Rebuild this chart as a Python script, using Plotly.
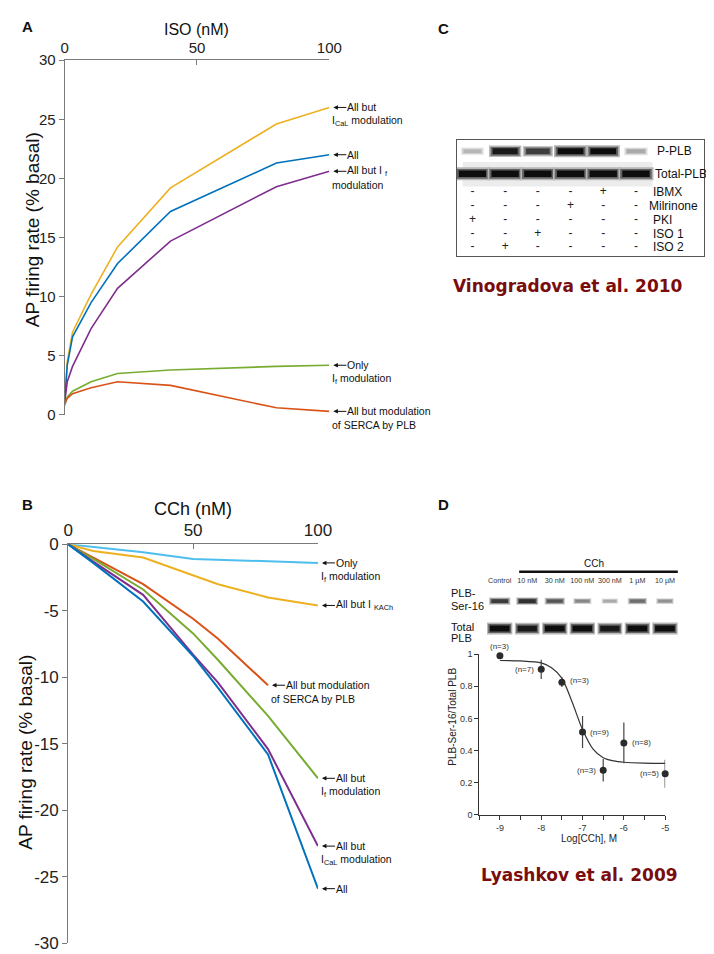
import plotly.graph_objects as go

W, H = 714, 954


def px(p):
    return p / W


def py(p):
    return 1 - p / H


FONT = "Liberation Sans, Arial, sans-serif"
BOLD_FONT = "DejaVu Sans, Verdana, sans-serif"

# ---------------- DATA ----------------
# Panel A: ISO dose response
iso_nM = [0, 1, 3, 10, 20, 40, 80, 100]
iso_all_but_ical = [1.0, 4.5, 7.0, 10.2, 14.2, 19.2, 24.6, 26.0]
iso_all = [1.0, 4.2, 6.6, 9.5, 12.8, 17.2, 21.3, 22.0]
iso_all_but_if = [1.0, 2.8, 4.1, 7.3, 10.7, 14.7, 19.3, 20.6]
iso_only_if = [0.8, 1.5, 2.0, 2.8, 3.5, 3.8, 4.1, 4.2]
iso_all_but_serca = [0.9, 1.4, 1.8, 2.3, 2.8, 2.5, 0.6, 0.3]
a_xticks = [0, 50, 100]
a_xticktext = ["0", "50", "100"]
a_yticks = [0, 5, 10, 15, 20, 25, 30]
a_yticktext = ["0", "5", "10", "15", "20", "25", "30"]

# Panel B: CCh dose response
cch_nM = [0, 10, 30, 50, 60, 80, 100]
cch_only_if = [0, -0.2, -0.6, -1.1, -1.15, -1.3, -1.4]
cch_all_but_ikach = [0, -0.5, -1.0, -2.3, -3.0, -4.0, -4.6]
cch_all_but_serca = [0, -1.0, -3.0, -5.6, -7.1, -10.6, None]
cch_all_but_if = [0, -1.1, -3.4, -6.7, -8.7, -12.9, -17.6]
cch_all_but_ical = [0, -1.3, -3.8, -8.3, -10.4, -15.4, -22.7]
cch_all = [0, -1.4, -4.3, -8.4, -10.8, -15.8, -25.9]
b_xticks = [0, 50, 100]
b_xticktext = ["0", "50", "100"]
b_yticks = [0, -5, -10, -15, -20, -25, -30]
b_yticktext = ["0", "-5", "-10", "-15", "-20", "-25", "-30"]

# Panel C: western blot (relative band densities) and treatment table
c_p_plb = [0.3, 0.95, 0.8, 1.0, 1.0, 0.35]
c_total_plb = [1.0, 1.0, 1.0, 1.0, 1.0, 1.0]
c_ibmx = ["-", "-", "-", "-", "+", "-"]
c_milrinone = ["-", "-", "-", "+", "-", "-"]
c_pki = ["+", "-", "-", "-", "-", "-"]
c_iso1 = ["-", "-", "+", "-", "-", "-"]
c_iso2 = ["-", "+", "-", "-", "-", "-"]
c_rows = ["IBMX", "Milrinone", "PKI", "ISO 1", "ISO 2"]

# Panel D: blot (relative densities) and dose response
d_lanes = ["Control", "10 nM", "30 nM", "100 nM", "300 nM", "1 µM", "10 µM"]
d_ser16 = [0.8, 0.85, 0.7, 0.5, 0.35, 0.6, 0.45]
d_total = [1.0, 0.95, 1.0, 1.0, 0.95, 1.0, 1.0]
d_logcch = [-9, -8, -7.5, -7, -6.5, -6, -5]
d_ratio = [0.99, 0.905, 0.825, 0.515, 0.277, 0.447, 0.255]
d_err = [0, 0.06, 0.03, 0.10, 0.07, 0.127, 0.087]
d_n = ["(n=3)", "(n=7)", "(n=3)", "(n=9)", "(n=3)", "(n=8)", "(n=5)"]
d_fit_x = [-9, -8.5, -8, -7.75, -7.5, -7.25, -7, -6.75, -6.5, -6.25, -6, -5.5, -5]
d_fit_y = [0.96, 0.957, 0.945, 0.915, 0.85, 0.70, 0.53, 0.41, 0.355, 0.335, 0.327, 0.322, 0.32]
d_xticks = [-9, -8, -7, -6, -5]
d_xticktext = ["-9", "-8", "-7", "-6", "-5"]
d_yticks = [0, 0.2, 0.4, 0.6, 0.8, 1]
d_yticktext = ["0", "0.2", "0.4", "0.6", "0.8", "1"]

# ---------------- STYLE ----------------
C_YEL = "#EDB120"
C_BLU = "#0072BD"
C_PUR = "#7E2F8E"
C_GRN = "#77AC30"
C_RED = "#D95319"
C_CYA = "#4DBEEE"
AX_COL = "#7a7a7a"
CITE_COL = "#7b0c0c"

fig = go.Figure()

# ---- Panel A lines ----
a_series = [
    (iso_all_but_ical, C_YEL, "All but", "I<sub>CaL</sub> modulation"),
    (iso_all, C_BLU, "All", None),
    (iso_all_but_if, C_PUR, "All but I <sub>f</sub>", "modulation"),
    (iso_only_if, C_GRN, "Only", "I<sub>f</sub> modulation"),
    (iso_all_but_serca, C_RED, "All but modulation", "of SERCA by PLB"),
]
for ys, col, _, _ in a_series:
    fig.add_trace(go.Scatter(x=iso_nM, y=ys, mode="lines", xaxis="x", yaxis="y",
                             line=dict(color=col, width=1.6), showlegend=False, hoverinfo="skip"))

# ---- Panel B lines ----
b_series = [
    (cch_only_if, C_CYA, "Only", "I<sub>f</sub> modulation"),
    (cch_all_but_ikach, C_YEL, "All but I <sub>KACh</sub>", None),
    (cch_all_but_serca, C_RED, "All but modulation", "of SERCA by PLB"),
    (cch_all_but_if, C_GRN, "All but", "I<sub>f</sub> modulation"),
    (cch_all_but_ical, C_PUR, "All but", "I<sub>CaL</sub> modulation"),
    (cch_all, C_BLU, "All", None),
]
for ys, col, _, _ in b_series:
    fig.add_trace(go.Scatter(x=cch_nM, y=ys, mode="lines", xaxis="x2", yaxis="y2",
                             line=dict(color=col, width=2), showlegend=False, hoverinfo="skip"))


# ---- blot helper ----
def add_band(xc, yc, length, thick, inten, xa, ya):
    layers = [(1.0, 1.0, 0.30), (0.9, 0.75, 0.65), (0.78, 0.5, 1.0)]
    for lf, tf, a in layers:
        dens = inten * a
        g = int(round(255 * (1 - 0.95 * dens)))
        L = length * lf * (0.55 + 0.45 * inten)
        fig.add_trace(go.Scatter(
            x=[xc - L / 2, xc + L / 2], y=[yc, yc], mode="lines", xaxis=xa, yaxis=ya,
            line=dict(color=f"rgb({g},{g},{g})", width=max(1.0, thick * tf * (0.45 + 0.55 * inten))),
            showlegend=False, hoverinfo="skip"))


# ---- Panel C blot ----
C_LANE0, C_PITCH = 472, 33.6
C_Y_P, C_Y_T = 137, 160
C_ROW_Y = [179, 193, 207, 221, 235]
c_lane_x = [C_LANE0 + i * C_PITCH for i in range(len(c_p_plb))]
for xc, v in zip(c_lane_x, c_total_plb):
    add_band(xc, C_Y_T, 36, 13, v, "x3", "y3")
for xc, v in zip(c_lane_x, c_p_plb):
    add_band(xc, C_Y_P, 34, 12, v, "x3", "y3")
for row, yv in zip([c_ibmx, c_milrinone, c_pki, c_iso1, c_iso2], C_ROW_Y):
    fig.add_trace(go.Scatter(x=c_lane_x, y=[yv] * len(row), text=row, mode="text", xaxis="x3", yaxis="y3",
                             textfont=dict(family=FONT, size=12, color="#222"),
                             showlegend=False, hoverinfo="skip"))

# ---- Panel D blot ----
D_LANE0, D_PITCH = 500, 28.3
D_Y_S, D_Y_T = 596, 624
d_lane_x = [D_LANE0 + i * D_PITCH for i in range(len(d_lanes))]
for xc, v in zip(d_lane_x, d_ser16):
    add_band(xc, D_Y_S, 24, 8, v, "x4", "y4")
for xc, v in zip(d_lane_x, d_total):
    add_band(xc, D_Y_T, 26, 12, v, "x4", "y4")
fig.add_trace(go.Scatter(x=d_lane_x, y=[576] * len(d_lanes), text=d_lanes, mode="text", xaxis="x4", yaxis="y4",
                         textfont=dict(family=FONT, size=7.2, color="#333"), showlegend=False, hoverinfo="skip"))

# ---- Panel D dose-response ----
fig.add_trace(go.Scatter(x=d_fit_x, y=d_fit_y, mode="lines", xaxis="x5", yaxis="y5",
                         line=dict(color="#333", width=1.2, shape="spline", smoothing=0.8),
                         showlegend=False, hoverinfo="skip"))
fig.add_trace(go.Scatter(x=d_logcch, y=d_ratio, mode="markers", xaxis="x5", yaxis="y5",
                         marker=dict(color="#2b2b2b", size=7),
                         error_y=dict(type="data", array=d_err, visible=True, color="#444", thickness=1.2, width=0),
                         cliponaxis=False, showlegend=False, hoverinfo="skip"))

ann = []


def txt(x, y, s, size, color="#111", bold=False, family=FONT, xanchor="center", angle=0, xref="paper",
        yref="paper", **kw):
    if xref == "paper":
        x = px(x)
    if yref == "paper":
        y = py(y)
    ann.append(dict(x=x, y=y, xref=xref, yref=yref, text=(f"<b>{s}</b>" if bold else s), showarrow=False,
                    xanchor=xanchor, yanchor="middle", textangle=angle,
                    font=dict(family=family, size=size, color=color), **kw))


# Panel letters
txt(15, 10, "A", 15, bold=True, family="Liberation Sans")
txt(15, 497, "B", 15, bold=True, family="Liberation Sans")
txt(442, 12, "C", 15, bold=True, family="Liberation Sans")
txt(442, 497, "D", 15, bold=True, family="Liberation Sans")

# Axis titles
txt(189, 13, "ISO (nM)", 16)
txt(20, 217, "AP firing rate (% basal)", 19, angle=-90)
txt(185, 502, "CCh (nM)", 18)
txt(12, 750, "AP firing rate (% basal)", 19, angle=-90)
txt(592, 838, "Log[CCh], M", 10, color="#222")
txt(452, 714, "PLB-Ser-16/Total PLB", 10, color="#222", angle=-90)

# Citations
txt(570, 274, "Vinogradova et al. 2010", 17, color=CITE_COL, bold=True, family=BOLD_FONT)
txt(582, 875, "Lyashkov et al. 2009", 17, color=CITE_COL, bold=True, family=BOLD_FONT)


# End-of-line labels with arrows
def end_label(xs, ys, first, second, xa, ya, xshift, line_gap):
    xe, ye = None, None
    for xv, yv in zip(xs, ys):
        if yv is not None:
            xe, ye = xv, yv
    ann.append(dict(x=xe, y=ye, xref=xa, yref=ya, text=first, showarrow=True,
                    ax=13, ay=0, axref="pixel", ayref="pixel", xanchor="left", yanchor="middle",
                    xshift=xshift, arrowhead=2, arrowsize=0.9, arrowwidth=1, arrowcolor="#111",
                    standoff=0, borderpad=0,
                    font=dict(family=FONT, size=10.5, color="#111")))
    if second:
        ann.append(dict(x=xe, y=ye, xref=xa, yref=ya, text=second, showarrow=False,
                        xanchor="left", yanchor="middle", xshift=xshift - 2, yshift=-line_gap, borderpad=0,
                        font=dict(family=FONT, size=10.5, color="#111")))


for ys, _, f, s in a_series:
    end_label(iso_nM, ys, f, s, "x", "y", 4, 13.5)
for ys, _, f, s in b_series:
    end_label(cch_nM, ys, f, s, "x2", "y2", 4, 14)

# Panel C row labels
txt(660, C_Y_P, "P-PLB", 12, xanchor="left", xref="x3", yref="y3")
txt(657, C_Y_T, "Total-PLB", 12, xanchor="left", xref="x3", yref="y3")
for name, yv in zip(c_rows, C_ROW_Y):
    txt(655 if name != "Milrinone" else 651, yv, name, 12, xanchor="left", xref="x3", yref="y3")

# Panel D blot labels
txt(448, 588, "PLB-", 11, xanchor="left", xref="x4", yref="y4")
txt(448, 601, "Ser-16", 11, xanchor="left", xref="x4", yref="y4")
txt(448, 622, "Total", 11, xanchor="left", xref="x4", yref="y4")
txt(448, 634, "PLB", 11, xanchor="left", xref="x4", yref="y4")
txt(597, 558, "CCh", 10, xref="x4", yref="y4")

# n labels for panel D
n_pos = [("c", 0, 9), ("r", -5, 0), ("l", 6, 2), ("l", 5, 0), ("r", -5, 0), ("l", 6, 0), ("r", -4, 0)]
for xv, yv, lab, (side, dx, dy) in zip(d_logcch, d_ratio, d_n, n_pos):
    ann.append(dict(x=xv, y=yv, xref="x5", yref="y5", text=lab, showarrow=False,
                    xanchor={"c": "center", "l": "left", "r": "right"}[side], yanchor="middle",
                    xshift=dx, yshift=dy, font=dict(family=FONT, size=8, color="#333")))

shapes = [
    dict(type="rect", xref="x3", yref="y3", x0=462, x1=657, y0=148, y1=173,
         fillcolor="#ececec", line=dict(width=0), layer="below"),
    dict(type="line", xref="x4", yref="y4", x0=520, x1=683, y0=566, y1=566,
         line=dict(color="#111", width=2.5)),
]

axcommon = dict(showgrid=False, zeroline=False, showline=True, linecolor=AX_COL, linewidth=1,
                tickcolor=AX_COL, tickmode="array")

fig.update_layout(
    width=W, height=H, margin=dict(l=0, r=0, t=0, b=0),
    paper_bgcolor="white", plot_bgcolor="white",
    font=dict(family=FONT, color="#111"),
    showlegend=False,
    annotations=ann, shapes=shapes,
    xaxis=dict(domain=[px(53), px(325)], range=[0, 100], side="top", anchor="y",
               ticks="inside", ticklen=5, tickvals=a_xticks, ticktext=a_xticktext,
               tickfont=dict(size=15, color="#222"), **axcommon),
    yaxis=dict(domain=[py(406), py(44)], range=[0, 30], anchor="x",
               ticks="outside", ticklen=5, tickvals=a_yticks, ticktext=a_yticktext,
               tickfont=dict(size=15, color="#222"), **axcommon),
    xaxis2=dict(domain=[px(56.7), px(313.3)], range=[0, 100], side="top", anchor="y2",
                ticks="inside", ticklen=5, tickvals=b_xticks, ticktext=b_xticktext,
                tickfont=dict(size=17, color="#222"), **axcommon),
    yaxis2=dict(domain=[py(945), py(538)], range=[-30, 0], anchor="x2",
                ticks="outside", ticklen=5, tickvals=b_yticks, ticktext=b_yticktext,
                tickfont=dict(size=17, color="#222"), **axcommon),
    xaxis3=dict(domain=[px(456), px(710)], range=[456, 710], anchor="y3", showgrid=False, zeroline=False,
                showline=True, mirror=True, linecolor="#555", linewidth=1.2, showticklabels=False, ticks=""),
    yaxis3=dict(domain=[py(244), py(125)], range=[244, 125], anchor="x3", showgrid=False, zeroline=False,
                showline=True, mirror=True, linecolor="#555", linewidth=1.2, showticklabels=False, ticks=""),
    xaxis4=dict(domain=[px(440), px(714)], range=[440, 714], anchor="y4", visible=False),
    yaxis4=dict(domain=[py(640), py(550)], range=[640, 550], anchor="x4", visible=False),
    xaxis5=dict(domain=[px(479), px(670)], range=[-9.5, -5], anchor="y5",
                ticks="outside", ticklen=4, tickvals=d_xticks, ticktext=d_xticktext,
                tickfont=dict(size=9, color="#333"),
                minor=dict(dtick=0.5, tick0=-9.5, ticks="outside", ticklen=4, tickcolor="#333"),
                showgrid=False, zeroline=False, showline=True, linecolor="#333", linewidth=1,
                tickcolor="#333", tickmode="array"),
    yaxis5=dict(domain=[py(814), py(650)], range=[0, 1], anchor="x5",
                ticks="outside", ticklen=4, tickvals=d_yticks, ticktext=d_yticktext,
                tickfont=dict(size=9, color="#333"),
                showgrid=False, zeroline=False, showline=True, linecolor="#333", linewidth=1,
                tickcolor="#333", tickmode="array"),
)

fig.write_html("out.html")
